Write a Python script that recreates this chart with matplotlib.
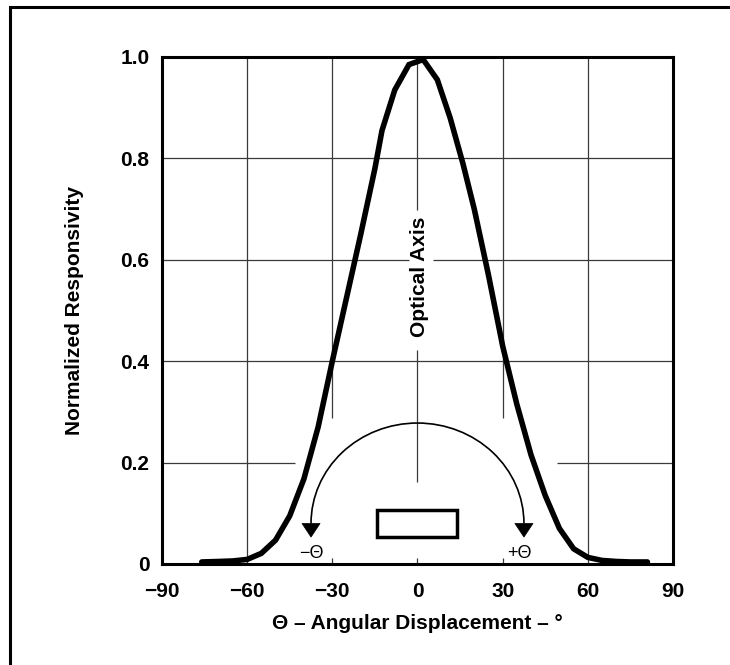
import matplotlib
matplotlib.use("Agg")
import matplotlib.pyplot as plt
from matplotlib.patches import Arc, Rectangle, Polygon

# responsivity curve
angle_deg = [-76, -70, -65, -60, -55, -50, -45, -40, -35, -30, -25, -20, -15,
             -12.5, -8, -3, 2, 7, 11.5, 16, 20, 25, 30, 35, 40, 45, 50, 55,
             60, 65, 70, 75, 81]
responsivity = [0.004, 0.005, 0.006, 0.009, 0.021, 0.047, 0.095, 0.168, 0.27,
                0.40, 0.525, 0.65, 0.78, 0.855, 0.935, 0.985, 0.995, 0.955,
                0.88, 0.79, 0.70, 0.57, 0.43, 0.315, 0.215, 0.135, 0.07, 0.03,
                0.013, 0.007, 0.005, 0.004, 0.004]

x_ticks = [-90, -60, -30, 0, 30, 60, 90]
x_tick_labels = ["\u221290", "\u221260", "\u221230", "0", "30", "60", "90"]
y_ticks = [0, 0.2, 0.4, 0.6, 0.8, 1.0]
y_tick_labels = ["0", "0.2", "0.4", "0.6", "0.8", "1.0"]

plt.rcParams["font.family"] = ["Liberation Sans", "DejaVu Sans"]
plt.rcParams["font.weight"] = "bold"

fig = plt.figure(figsize=(7.3, 6.65), dpi=100)
ax = fig.add_axes([0.2219, 0.1519, 0.70, 0.7624])

# outer frame (open on right and bottom as in the reference)
fig.add_artist(Rectangle((10 / 730, -0.1), 1.2, 1.1 - 7 / 665,
                         transform=fig.transFigure, fill=False,
                         lw=2.2, ec="black", clip_on=False))

# broken grid lines
gc = "#3a3a3a"
glw = 0.9
for xv in (-60, 60):
    ax.vlines(xv, 0, 1, color=gc, lw=glw)
for xv in (-30, 30):
    ax.vlines(xv, 0.288, 1, color=gc, lw=glw)
    ax.vlines(xv, 0, 0.012, color=gc, lw=glw)
ax.vlines(0, 0.698, 1, color=gc, lw=glw)
ax.vlines(0, 0.162, 0.422, color=gc, lw=glw)
ax.vlines(0, 0, 0.012, color=gc, lw=glw)
ax.hlines(0.8, -90, 90, color=gc, lw=glw)
ax.hlines(0.6, -90, -3, color=gc, lw=glw)
ax.hlines(0.6, 5.5, 90, color=gc, lw=glw)
ax.hlines(0.4, -90, 90, color=gc, lw=glw)
ax.hlines(0.2, -90, -43, color=gc, lw=glw)
ax.hlines(0.2, 49, 90, color=gc, lw=glw)

ax.plot(angle_deg, responsivity, color="black", lw=4, solid_capstyle="round",
        solid_joinstyle="miter", zorder=5)

# angle sketch: arc with arrowheads and sensor package
arc_cx, arc_cy, arc_a, arc_b = 0, 0.08, 37.5, 0.198
ax.add_patch(Arc((arc_cx, arc_cy), 2 * arc_a, 2 * arc_b, theta1=0, theta2=180,
                 color="black", lw=1.2, zorder=4))
for side in (-1, 1):
    xe = arc_cx + side * arc_a
    ax.add_patch(Polygon([(xe - 3.2, arc_cy), (xe + 3.2, arc_cy), (xe, 0.053)],
                         closed=True, fc="black", ec="black", lw=0.5, zorder=4))
ax.add_patch(Rectangle((-14.2, 0.054), 28.2, 0.052, fill=False, ec="black",
                       lw=2.5, zorder=4))
ax.text(arc_cx - arc_a, 0.02, "\u2212\u0398", ha="center", va="center",
        fontsize=13, fontweight="normal")
ax.text(arc_cx + arc_a - 1.5, 0.02, "+\u0398", ha="center", va="center",
        fontsize=13, fontweight="normal")

ax.text(0.7, 0.566, "Optical Axis", rotation=90, ha="center", va="center",
        fontsize=15, fontweight="bold")

ax.set_xlim(-90, 90)
ax.set_ylim(0, 1.0)
ax.set_xticks(x_ticks)
ax.set_xticklabels(x_tick_labels)
ax.set_yticks(y_ticks)
ax.set_yticklabels(y_tick_labels)
ax.tick_params(axis="both", length=0, labelsize=15)
ax.tick_params(axis="x", pad=13)
ax.tick_params(axis="y", pad=9)
for sp in ax.spines.values():
    sp.set_linewidth(2.2)

ax.set_xlabel("\u0398 \u2013 Angular Displacement \u2013 \u00b0", fontsize=15,
              fontweight="bold", labelpad=9)
ax.set_ylabel("Normalized Responsivity", fontsize=15, fontweight="bold",
              labelpad=26)

fig.savefig("out.png", dpi=100)
